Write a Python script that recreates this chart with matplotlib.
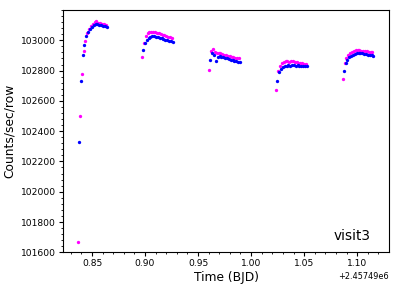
import matplotlib
matplotlib.use('Agg')

import matplotlib.pyplot as plt
from matplotlib.ticker import ScalarFormatter, AutoMinorLocator
import numpy as np

T0 = 2457490.0

# magenta series: time (BJD - T0), counts/sec/row
t_mag = [0.8368, 0.8385, 0.8402, 0.8420, 0.8437, 0.8455, 0.8472, 0.8490,
         0.8507, 0.8525, 0.8542, 0.8560, 0.8577, 0.8595, 0.8612, 0.8630,
         0.8972, 0.8990, 0.9007, 0.9025, 0.9042, 0.9060, 0.9077, 0.9095,
         0.9112, 0.9130, 0.9147, 0.9165, 0.9182, 0.9200, 0.9217, 0.9235, 0.9252,
         0.9606, 0.9623, 0.9641, 0.9658, 0.9676, 0.9693, 0.9711, 0.9728,
         0.9746, 0.9763, 0.9781, 0.9798, 0.9816, 0.9833, 0.9851, 0.9868, 0.9886,
         1.0236, 1.0255, 1.0272, 1.0290, 1.0307, 1.0325, 1.0342, 1.0360,
         1.0377, 1.0395, 1.0412, 1.0430, 1.0447, 1.0465, 1.0482, 1.0500, 1.0517,
         1.0864, 1.0882, 1.0899, 1.0917, 1.0934, 1.0952, 1.0969, 1.0987,
         1.1004, 1.1022, 1.1039, 1.1057, 1.1074, 1.1092, 1.1109, 1.1127, 1.1144]
v_mag = [101670, 102500, 102780, 102926, 102995, 103050, 103075, 103095,
         103110, 103120, 103125, 103115, 103112, 103110, 103105, 103100,
         102890, 102980, 103030, 103045, 103052, 103058, 103056, 103054,
         103050, 103045, 103040, 103038, 103035, 103030, 103025, 103020, 103017,
         102804, 102926, 102942, 102922, 102915, 102918, 102915, 102910,
         102905, 102902, 102898, 102895, 102890, 102887, 102884, 102882, 102880,
         102675, 102795, 102830, 102848, 102855, 102860, 102865, 102858,
         102862, 102860, 102855, 102858, 102852, 102850, 102848, 102846, 102845,
         102745, 102852, 102880, 102900, 102915, 102925, 102930, 102935,
         102938, 102936, 102932, 102930, 102928, 102926, 102925, 102924, 102922]

# blue series
t_blu = [0.8377, 0.8394, 0.8411, 0.8429, 0.8446, 0.8464, 0.8481, 0.8499,
         0.8516, 0.8534, 0.8551, 0.8569, 0.8586, 0.8604, 0.8621, 0.8639,
         0.8981, 0.8999, 0.9016, 0.9034, 0.9051, 0.9069, 0.9086, 0.9104,
         0.9121, 0.9139, 0.9156, 0.9174, 0.9191, 0.9209, 0.9226, 0.9244, 0.9261,
         0.9616, 0.9633, 0.9650, 0.9668, 0.9685, 0.9703, 0.9720, 0.9738,
         0.9755, 0.9773, 0.9790, 0.9808, 0.9825, 0.9843, 0.9860, 0.9878, 0.9895,
         1.0245, 1.0264, 1.0281, 1.0299, 1.0316, 1.0334, 1.0351, 1.0369,
         1.0386, 1.0404, 1.0421, 1.0439, 1.0456, 1.0474, 1.0491, 1.0509, 1.0526,
         1.0873, 1.0891, 1.0908, 1.0926, 1.0943, 1.0961, 1.0978, 1.0996,
         1.1013, 1.1031, 1.1048, 1.1066, 1.1083, 1.1101, 1.1118, 1.1136, 1.1153]
v_blu = [102330, 102730, 102900, 102970, 103030, 103055, 103075, 103090,
         103100, 103105, 103105, 103100, 103098, 103095, 103092, 103088,
         102936, 102985, 103005, 103018, 103025, 103028, 103026, 103024,
         103020, 103016, 103014, 103010, 103005, 103000, 102996, 102993, 102990,
         102872, 102913, 102900, 102863, 102892, 102894, 102892, 102888,
         102884, 102880, 102876, 102872, 102868, 102864, 102861, 102859, 102857,
         102732, 102790, 102810, 102822, 102828, 102832, 102835, 102833,
         102836, 102834, 102832, 102835, 102833, 102832, 102833, 102832, 102831,
         102800, 102850, 102872, 102888, 102898, 102905, 102910, 102915,
         102918, 102916, 102914, 102912, 102908, 102905, 102902, 102900, 102897]

fig = plt.figure(figsize=(3.98, 2.90), dpi=100)
ax = fig.add_axes([0.159, 0.130, 0.818, 0.8355])

ax.plot(np.array(t_mag) + T0, v_mag, 'o', color='#ff00ff', ms=2.4, mew=0)
ax.plot(np.array(t_blu) + T0, v_blu, 'o', color='#0000ff', ms=2.4, mew=0)

ax.set_xlim(T0 + 0.8229, T0 + 1.1299)
ax.set_ylim(101600, 103200)
ax.set_yticks(np.arange(101600, 103001, 200))

fmt = ScalarFormatter(useOffset=T0)
ax.xaxis.set_major_formatter(fmt)
ax.yaxis.set_major_formatter(ScalarFormatter(useOffset=False))
ax.xaxis.set_minor_locator(AutoMinorLocator(5))
ax.yaxis.set_minor_locator(AutoMinorLocator(5))

ax.tick_params(which='major', direction='out', length=3, width=0.8,
               labelsize=6.6, top=False, right=False, pad=2)
ax.tick_params(which='minor', direction='out', length=1.6, width=0.6,
               top=False, right=False)
ax.xaxis.get_offset_text().set_fontsize(5.9)

ax.set_xlabel('Time (BJD)', fontsize=8.8, labelpad=2)
ax.set_ylabel('Counts/sec/row', fontsize=8.8, labelpad=4)

ax.text(0.945, 0.04, 'visit3', transform=ax.transAxes, fontsize=9.8,
        ha='right', va='bottom')

fig.savefig('out.png', dpi=100)
